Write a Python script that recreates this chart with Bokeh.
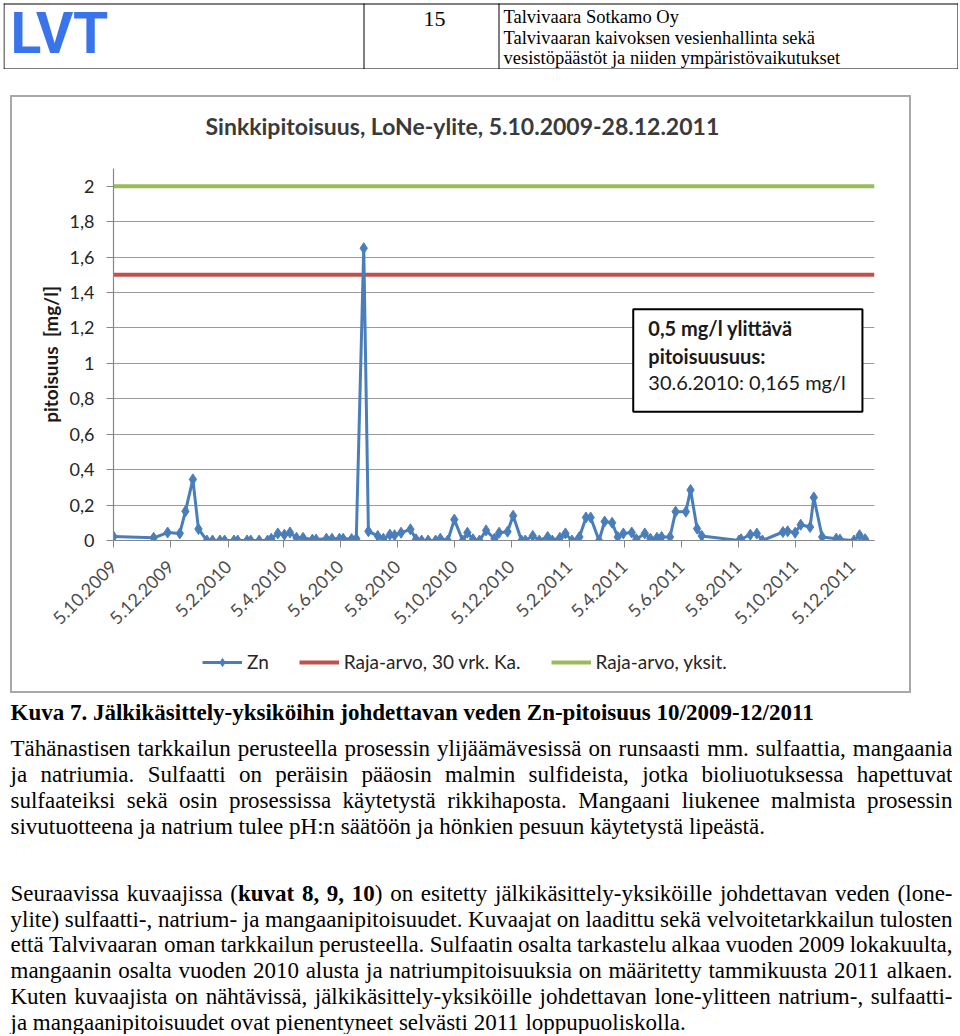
import math
import pandas as pd
from bokeh.plotting import figure
from bokeh.models import (Range1d, FixedTicker, Legend, LegendItem, ColumnDataSource,
                          BoxAnnotation, Label, Title)
from bokeh.embed import file_html
from bokeh.resources import INLINE
from bokeh.core.properties import value

# ---------------- data ----------------
sample_dates = [
    "5.10.2009", "17.11.2009", "2.12.2009", "15.12.2009", "21.12.2009", "29.12.2009",
    "4.1.2010", "13.1.2010", "19.1.2010", "27.1.2010", "1.2.2010", "11.2.2010",
    "15.2.2010", "25.2.2010", "1.3.2010", "10.3.2010", "19.3.2010", "23.3.2010",
    "30.3.2010", "6.4.2010", "12.4.2010", "19.4.2010", "26.4.2010", "6.5.2010",
    "10.5.2010", "21.5.2010", "27.5.2010", "4.6.2010", "8.6.2010", "17.6.2010",
    "22.6.2010", "30.6.2010", "5.7.2010", "15.7.2010", "21.7.2010", "28.7.2010",
    "2.8.2010", "9.8.2010", "19.8.2010", "25.8.2010", "31.8.2010", "7.9.2010",
    "15.9.2010", "20.9.2010", "28.9.2010", "5.10.2010", "14.10.2010", "19.10.2010",
    "25.10.2010", "1.11.2010", "8.11.2010", "17.11.2010", "22.11.2010", "1.12.2010",
    "7.12.2010", "16.12.2010", "20.12.2010", "28.12.2010", "4.1.2011", "13.1.2011",
    "18.1.2011", "26.1.2011", "1.2.2011", "8.2.2011", "16.2.2011", "23.2.2011",
    "28.2.2011", "9.3.2011", "15.3.2011", "23.3.2011", "29.3.2011", "4.4.2011",
    "13.4.2011", "18.4.2011", "27.4.2011", "3.5.2011", "10.5.2011", "15.5.2011",
    "24.5.2011", "30.5.2011", "10.6.2011", "15.6.2011", "22.6.2011", "27.6.2011",
    "6.8.2011", "8.8.2011", "18.8.2011", "25.8.2011", "31.8.2011", "22.9.2011",
    "27.9.2011", "5.10.2011", "11.10.2011", "21.10.2011", "25.10.2011", "3.11.2011",
    "18.11.2011", "22.11.2011", "7.12.2011", "13.12.2011", "19.12.2011",
]
zn_values = [
    0.022, 0.015, 0.045, 0.040, 0.165, 0.345,
    0.065, 0.0, 0.0, 0.0, 0.0, 0.0,
    0.0, 0.0, 0.0, 0.0, 0.0, 0.010,
    0.040, 0.033, 0.045, 0.015, 0.015, 0.005,
    0.005, 0.010, 0.010, 0.010, 0.010, 0.008,
    0.010, 1.650, 0.052, 0.026, 0.010, 0.033,
    0.030, 0.044, 0.063, 0.007, 0.0, 0.0,
    0.0, 0.010, 0.0, 0.118, 0.0, 0.044,
    0.007, 0.0, 0.057, 0.010, 0.044, 0.050,
    0.140, 0.0, 0.0, 0.026, 0.0, 0.020,
    0.0, 0.015, 0.040, 0.0, 0.020, 0.130,
    0.130, 0.0, 0.107, 0.100, 0.020, 0.040,
    0.045, 0.007, 0.040, 0.010, 0.015, 0.020,
    0.020, 0.163, 0.163, 0.285, 0.067, 0.026,
    0.0, 0.007, 0.033, 0.039, 0.0, 0.048,
    0.052, 0.044, 0.089, 0.076, 0.243, 0.020,
    0.010, 0.005, 0.0, 0.030, 0.007,
]
raja_30vrk = 1.5
raja_yksit = 2.0
period_start = "5.10.2009"
period_end = "28.12.2011"

x_tick_labels = ["5.10.2009", "5.12.2009", "5.2.2010", "5.4.2010", "5.6.2010", "5.8.2010",
                 "5.10.2010", "5.12.2010", "5.2.2011", "5.4.2011", "5.6.2011", "5.8.2011",
                 "5.10.2011", "5.12.2011"]
y_ticks = [0, 0.2, 0.4, 0.6, 0.8, 1.0, 1.2, 1.4, 1.6, 1.8, 2.0]
y_tick_labels = ["0", "0,2", "0,4", "0,6", "0,8", "1", "1,2", "1,4", "1,6", "1,8", "2"]

legend_labels = ["Zn", "Raja-arvo, 30 vrk. Ka.", "Raja-arvo, yksit."]
chart_title = "Sinkkipitoisuus, LoNe-ylite, 5.10.2009-28.12.2011"
y_label = "pitoisuus \u00a0[mg/l]"
note_lines = ["0,5 mg/l ylittävä", "pitoisuusuus:", "30.6.2010: 0,165 mg/l"]

header_company = ["Talvivaara Sotkamo Oy",
                  "Talvivaaran kaivoksen vesienhallinta sekä",
                  "vesistöpäästöt ja niiden ympäristövaikutukset"]
page_number = "15"
caption = "Kuva 7. Jälkikäsittely-yksiköihin johdettavan veden Zn-pitoisuus 10/2009-12/2011"
para1 = [
    ("Tähänastisen tarkkailun perusteella prosessin ylijäämävesissä on runsaasti mm. sulfaattia, mangaania", True),
    ("ja natriumia. Sulfaatti on peräisin pääosin malmin sulfideista, jotka bioliuotuksessa hapettuvat", True),
    ("sulfaateiksi sekä osin prosessissa käytetystä rikkihaposta. Mangaani liukenee malmista prosessin", True),
    ("sivutuotteena ja natrium tulee pH:n säätöön ja hönkien pesuun käytetystä lipeästä.", False),
]
para2 = [
    ("Seuraavissa kuvaajissa (**kuvat 8, 9, 10**) on esitetty jälkikäsittely-yksiköille johdettavan veden (lone-", True),
    ("ylite) sulfaatti-, natrium- ja mangaanipitoisuudet. Kuvaajat on laadittu sekä velvoitetarkkailun tulosten", True),
    ("että Talvivaaran oman tarkkailun perusteella. Sulfaatin osalta tarkastelu alkaa vuoden 2009 lokakuulta,", True),
    ("mangaanin osalta vuoden 2010 alusta ja natriumpitoisuuksia on määritetty tammikuusta 2011 alkaen.", True),
    ("Kuten kuvaajista on nähtävissä, jälkikäsittely-yksiköille johdettavan lone-ylitteen natrium-, sulfaatti-", True),
    ("ja mangaanipitoisuudet ovat pienentyneet selvästi 2011 loppupuoliskolla.", False),
]


def to_ms(d):
    return int(pd.to_datetime(d, format="%d.%m.%Y").value // 10**6)


DAY = 86400000
x_start = to_ms(period_start)
x_end = to_ms(period_end) + DAY

SANS = "Lato"
SERIF = "Liberation Serif"
BOX = "2px solid #a8a8a8"

ZN_COLOR = "#4a7ebb"
RED = "#c0504d"
GREEN = "#9bbb59"

# ---------------- chart (upper part of the chart box) ----------------
p = figure(width=901, height=545, x_axis_type="datetime",
           x_range=Range1d(x_start, x_end), y_range=Range1d(0, 2.1),
           output_backend="svg", toolbar_location=None,
           min_border_left=101, min_border_right=39, min_border_top=71, min_border_bottom=102,
           margin=(26, 0, 0, 10),
           styles={"border-top": BOX, "border-left": BOX, "border-right": BOX,
                   "box-sizing": "border-box"})
p.background_fill_color = "white"
p.border_fill_color = "white"
p.outline_line_color = None

# spacer between frame and title
p.add_layout(Title(text=" ", text_font_size="1px", standoff=21), "above")
p.title.text = chart_title
p.title.align = "left"
p.title.offset = 92
p.title.text_font = SANS
p.title.text_font_size = "23px"
p.title.text_font_style = "bold"
p.title.text_color = "#3a3a3a"
p.title.standoff = 10

# y axis
p.yaxis.ticker = FixedTicker(ticks=y_ticks)
p.yaxis.major_label_overrides = {t: l for t, l in zip(y_ticks, y_tick_labels)}
p.yaxis.major_label_text_font = SANS
p.yaxis.major_label_text_font_size = "18px"
p.yaxis.major_label_text_color = "#262626"
p.yaxis.major_label_standoff = 12
p.yaxis.axis_label = y_label
p.yaxis.axis_label_text_font = SANS
p.yaxis.axis_label_text_font_size = "19px"
p.yaxis.axis_label_text_font_style = "bold"
p.yaxis.axis_label_text_color = "#1a1a1a"
p.yaxis.axis_label_standoff = 5
p.ygrid.ticker = FixedTicker(ticks=y_ticks)
p.ygrid.grid_line_color = "#9a9a9a"
p.ygrid.grid_line_width = 1
p.xgrid.grid_line_color = None

# x axis
x_tick_ms = [to_ms(d) for d in x_tick_labels]
p.xaxis.ticker = FixedTicker(ticks=x_tick_ms)
p.xaxis.major_label_overrides = {t: l for t, l in zip(x_tick_ms, x_tick_labels)}
p.xaxis.major_label_orientation = math.pi / 4
p.xaxis.major_label_text_font = SANS
p.xaxis.major_label_text_font_size = "18px"
p.xaxis.major_label_text_color = "#4d4d4d"
p.xaxis.major_label_standoff = 16

for ax in (p.xaxis, p.yaxis):
    ax.axis_line_color = "#878787"
    ax.axis_line_width = 1.2
    ax.major_tick_line_color = "#878787"
    ax.major_tick_out = 7
    ax.major_tick_in = 0
    ax.minor_tick_line_color = None

# series
src = ColumnDataSource(dict(x=[to_ms(d) for d in sample_dates], y=zn_values))
p.line([x_start, x_end], [raja_30vrk, raja_30vrk], line_width=4, line_color=RED)
p.line([x_start, x_end], [raja_yksit, raja_yksit], line_width=4, line_color=GREEN)
p.line("x", "y", source=src, line_width=3, line_color=ZN_COLOR)
p.scatter("x", "y", source=src, marker="diamond", size=11,
          fill_color=ZN_COLOR, line_color=ZN_COLOR)


# annotation box (positions given in chart pixels of the frame)
def fx(px):
    return x_start + (px - 113) / (870 - 113) * (x_end - x_start)


def fy(py):
    return (538 - py) / (538 - 168) * 2.1


p.add_layout(BoxAnnotation(left=fx(630), right=fx(858), top=fy(308), bottom=fy(410),
                           fill_color="white", fill_alpha=1.0,
                           line_color="black", line_alpha=1.0, line_width=2))
for txt, py, bold in zip(note_lines, [327, 354, 380], [True, True, False]):
    p.add_layout(Label(x=fx(645), y=fy(py), text=txt, text_font=SANS,
                       text_font_size="20px", text_font_style="bold" if bold else "normal",
                       text_color="#1a1a1a", text_baseline="middle"))

# ---------------- legend strip (lower part of the chart box) ----------------
lf = figure(width=901, height=53, x_range=Range1d(0, 1), y_range=Range1d(0, 1),
            output_backend="svg", toolbar_location=None, min_border=0,
            margin=(0, 0, 0, 10),
            styles={"border-bottom": BOX, "border-left": BOX, "border-right": BOX,
                    "box-sizing": "border-box"})
lf.axis.visible = False
lf.grid.visible = False
lf.outline_line_color = None
lf.border_fill_color = "white"
# legend key renderers, placed outside the visible range so only their keys show
k_zn_l = lf.line(x=[-3, -2], y=[-3, -3], line_width=3, line_color=ZN_COLOR)
k_zn_p = lf.scatter(x=[-3], y=[-3], marker="diamond", size=11, fill_color=ZN_COLOR,
                    line_color=ZN_COLOR)
k_red = lf.line(x=[-3, -2], y=[-3, -3], line_width=4, line_color=RED)
k_green = lf.line(x=[-3, -2], y=[-3, -3], line_width=4, line_color=GREEN)
legend = Legend(items=[LegendItem(label=legend_labels[0], renderers=[k_zn_l, k_zn_p]),
                       LegendItem(label=legend_labels[1], renderers=[k_red]),
                       LegendItem(label=legend_labels[2], renderers=[k_green])],
                location=(190, 20), orientation="horizontal",
                glyph_width=40, glyph_height=20, label_height=20,
                label_standoff=5, spacing=30, padding=0, margin=0,
                label_text_font=SANS, label_text_font_size="19px", label_text_color="#262626",
                border_line_color=None, background_fill_alpha=0)
lf.add_layout(legend)

# ---------------- header ----------------
hf = figure(width=955, height=69, x_range=Range1d(3, 958), y_range=Range1d(69, 0),
            output_backend="svg", toolbar_location=None, min_border=0,
            margin=(0, 0, 0, 3))
hf.axis.visible = False
hf.grid.visible = False
hf.outline_line_color = None
hf.background_fill_color = "white"
hf.segment(x0=[3, 3, 3.5, 363.5, 498.5, 957.5], y0=[3.5, 68.5, 3, 3, 3, 3],
           x1=[958, 958, 3.5, 363.5, 498.5, 957.5], y1=[3.5, 68.5, 69, 69, 69, 69],
           line_color="black", line_width=1)
hf.text(x=[10], y=[33], text=["LVT"], text_font=value("Roboto"), text_font_style="bold",
        text_font_size="57px", text_color="#3a74ea", text_baseline="middle")
hf.text(x=[434], y=[18], text=[page_number], text_font=value(SERIF), text_font_size="22px",
        text_align="center", text_baseline="middle", text_color="black")
hf.text(x=[503, 503, 503], y=[16, 37, 57], text=header_company, text_font=value(SERIF),
        text_font_size="18.5px", text_baseline="middle", text_color="black")

# ---------------- body text ----------------
REG = {' ': 250, '(': 333, ')': 333, ',': 250, '-': 333, '.': 250, '/': 278, ':': 278,
       'A': 722, 'B': 667, 'C': 667, 'D': 722, 'E': 611, 'F': 556, 'G': 722, 'H': 722,
       'I': 333, 'J': 389, 'K': 722, 'L': 611, 'M': 889, 'N': 722, 'O': 722, 'P': 556,
       'Q': 722, 'R': 667, 'S': 556, 'T': 611, 'U': 722, 'V': 722, 'W': 944, 'X': 722,
       'Y': 722, 'Z': 611,
       'a': 444, 'b': 500, 'c': 444, 'd': 500, 'e': 444, 'f': 333, 'g': 500, 'h': 500,
       'i': 278, 'j': 278, 'k': 500, 'l': 278, 'm': 778, 'n': 500, 'o': 500, 'p': 500,
       'q': 500, 'r': 333, 's': 389, 't': 278, 'u': 500, 'v': 500, 'w': 722, 'x': 500,
       'y': 500, 'z': 444, 'ä': 444, 'ö': 500, 'å': 444}
BOLD = {' ': 250, '(': 333, ')': 333, ',': 250, '-': 333, '.': 250, '/': 278, ':': 333,
        'A': 722, 'B': 667, 'C': 722, 'D': 722, 'E': 667, 'F': 611, 'G': 778, 'H': 778,
        'I': 389, 'J': 500, 'K': 778, 'L': 667, 'M': 944, 'N': 722, 'O': 778, 'P': 611,
        'Q': 778, 'R': 722, 'S': 556, 'T': 667, 'U': 722, 'V': 722, 'W': 1000, 'X': 722,
        'Y': 722, 'Z': 667,
        'a': 500, 'b': 556, 'c': 444, 'd': 556, 'e': 444, 'f': 333, 'g': 500, 'h': 556,
        'i': 278, 'j': 333, 'k': 556, 'l': 278, 'm': 833, 'n': 556, 'o': 500, 'p': 556,
        'q': 556, 'r': 444, 's': 389, 't': 333, 'u': 556, 'v': 500, 'w': 722, 'x': 500,
        'y': 500, 'z': 444, 'ä': 500, 'ö': 500, 'å': 500}
FS = 23.0
X_LEFT, X_RIGHT = 10, 952


def width(s, bold):
    tab = BOLD if bold else REG
    return sum(tab.get(c, 500) for c in s) / 1000.0 * FS


tx, ty, tt, tst = [], [], [], []


def add_line(line, y, justify, all_bold=False):
    words = []
    bold = all_bold
    for raw in line.split(" "):
        runs = []
        parts = raw.split("**")
        for i, part in enumerate(parts):
            if i > 0:
                bold = not bold
            if part:
                runs.append((part, bold))
        words.append(runs)
    wsum = [sum(width(t, b) for t, b in w) for w in words]
    total = sum(wsum)
    if justify and len(words) > 1:
        gap = (X_RIGHT - X_LEFT - total) / (len(words) - 1)
    else:
        gap = REG[' '] / 1000.0 * FS
    x = X_LEFT
    for w, ww in zip(words, wsum):
        xx = x
        for t, b in w:
            tx.append(xx)
            ty.append(y)
            tt.append(t)
            tst.append("bold" if b else "normal")
            xx += width(t, b)
        x += ww + gap


add_line(caption, 712, False, all_bold=True)
for (line, j), y in zip(para1, [748, 774, 800, 826]):
    add_line(line, y, j)
for (line, j), y in zip(para2, [893, 919, 944, 970, 996, 1022]):
    add_line(line, y, j)

tf = figure(width=944, height=341, x_range=Range1d(8, 952), y_range=Range1d(1034, 693),
            output_backend="svg", toolbar_location=None, min_border=0,
            margin=(0, 0, 0, 8))
tf.axis.visible = False
tf.grid.visible = False
tf.outline_line_color = None
tsrc = ColumnDataSource(dict(x=tx, y=ty, text=tt, style=tst))
tf.text(x="x", y="y", text="text", source=tsrc, text_font=value(SERIF),
        text_font_size=f"{FS}px", text_font_style="style", text_baseline="middle",
        text_color="black")

open("out.html", "w").write(file_html([hf, p, lf, tf], INLINE))
